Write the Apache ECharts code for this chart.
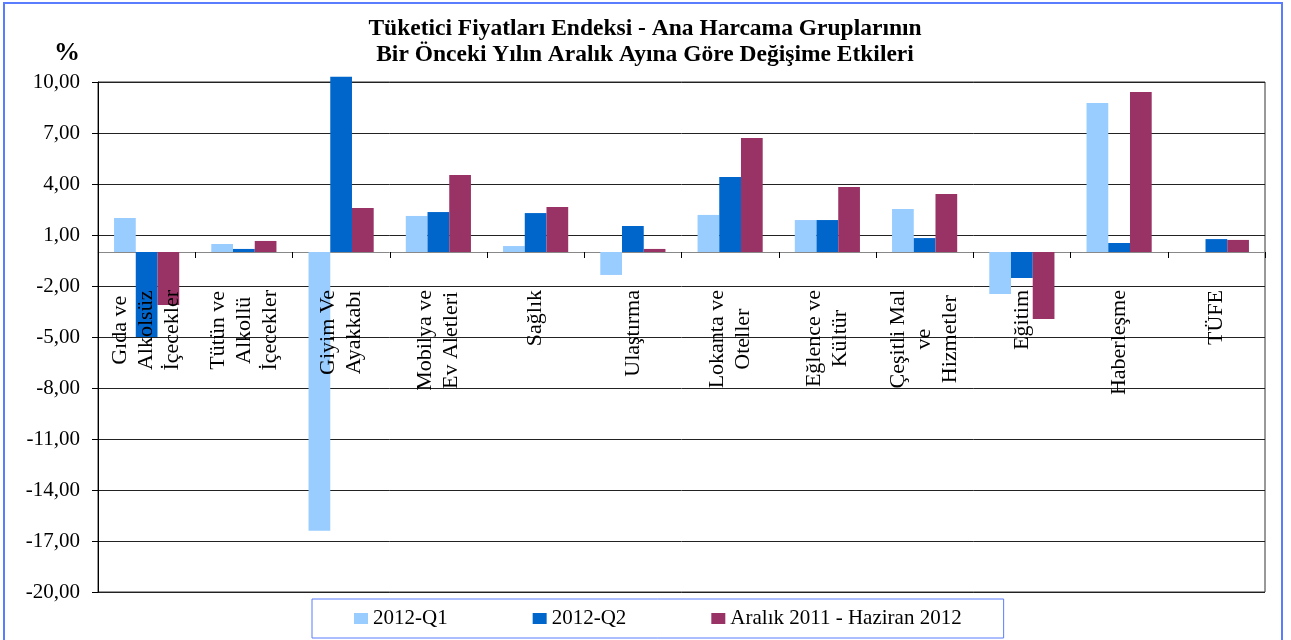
<!DOCTYPE html>
<html>
<head>
<meta charset="utf-8">
<script src="https://cdn.jsdelivr.net/npm/echarts@6/dist/echarts.min.js"></script>
<style>html,body{margin:0;padding:0;background:#fff;}#c{width:1291px;height:640px;}</style>
</head>
<body>
<div id="c"></div>
<script>
const categories = ['Gıda ve\nAlkolsüz\nİçecekler','Tütün ve\nAlkollü\nİçecekler','Giyim Ve\nAyakkabı','Mobilya ve\nEv Aletleri','Sağlık','Ulaştırma','Lokanta ve\nOteller','Eğlence ve\nKültür','Çeşitli Mal\nve\nHizmetler','Eğitim','Haberleşme','TÜFE'];
const seriesNames = ['2012-Q1','2012-Q2','Aralık 2011 - Haziran 2012'];
const q1 = [2.00, 0.47, -16.40, 2.12, 0.35, -1.35, 2.18, 1.88, 2.53, -2.47, 8.76, 0.00];
const q2 = [-5.00, 0.18, 10.31, 2.35, 2.29, 1.53, 4.41, 1.88, 0.82, -1.53, 0.53, 0.76];
const aralik = [-3.12, 0.65, 2.59, 4.53, 2.65, 0.18, 6.71, 3.82, 3.41, -3.94, 9.41, 0.71];
const yTicks = [-20, -17, -14, -11, -8, -5, -2, 1, 4, 7, 10];

const serif = 'Liberation Serif';
const chart = echarts.init(document.getElementById('c'));
const colors = ['#99CCFF', '#0066CC', '#993366'];
const gridTop = 82, gridBottom = 48, yMin = -20, yMax = 10;
// offset that moves the label axis from the grid bottom up to the value 0 line
const plotH = 640 - gridTop - gridBottom;
const zeroOffset = -plotH * (0 - yMin) / (yMax - yMin);
chart.setOption({
  animation: false,
  backgroundColor: '#fff',
  title: {
    text: 'Tüketici Fiyatları Endeksi - Ana Harcama Gruplarının\nBir Önceki Yılın Aralık Ayına Göre Değişime Etkileri',
    left: 640, top: 11, textAlign: 'center',
    textStyle: {fontFamily: serif, fontWeight: 'bold', fontSize: 23.5, lineHeight: 26, color: '#000'}
  },
  graphic: [
    {type: 'rect', shape: {x: 4, y: 3, width: 1278, height: 700}, style: {fill: 'none', stroke: '#5a7dff', lineWidth: 2}, silent: true},
    {type: 'text', left: 54, top: 40, style: {text: '%', font: 'bold 26px "Liberation Serif"', fill: '#000'}}
  ],
  legend: {
    data: seriesNames,
    left: 312, top: 599,
    padding: [9, 42, 9, 42],
    itemGap: 85, itemWidth: 14, itemHeight: 11,
    borderColor: '#5a7dff', borderWidth: 1,
    icon: 'rect',
    textStyle: {fontFamily: serif, fontSize: 21, color: '#000'}
  },
  grid: {left: 98, right: 26, top: gridTop, bottom: gridBottom, show: true, borderColor: '#333', borderWidth: 1, containLabel: false, outerBoundsMode: 'none'},
  xAxis: [{
    type: 'category', data: categories,
    axisLine: {onZero: true, lineStyle: {color: '#888', width: 1}},
    axisTick: {show: true, interval: 0, length: 6, lineStyle: {color: '#000'}},
    axisLabel: {show: false}
  }, {
    type: 'category', data: categories, position: 'bottom', offset: zeroOffset, z: 10,
    axisLine: {show: false, onZero: false},
    axisTick: {show: false},
    splitLine: {show: false},
    axisLabel: {
      interval: 0, rotate: 90, margin: 38, color: '#000',
      fontFamily: serif, fontSize: 22, lineHeight: 26,
      formatter: v => v.split('\n').map(s => '{c|' + s + '}').join('\n'),
      rich: {c: {align: 'center', fontFamily: serif, fontSize: 22, lineHeight: 26, color: '#000'}}
    }
  }],
  yAxis: {
    type: 'value', min: yMin, max: yMax,
    axisLine: {show: true, lineStyle: {color: '#000'}},
    axisTick: {show: true, length: 6, customValues: yTicks, lineStyle: {color: '#000'}},
    axisLabel: {customValues: yTicks, margin: 18, color: '#000', fontFamily: serif, fontSize: 21,
      formatter: v => v.toFixed(2).replace('.', ',')},
    splitLine: {show: true, lineStyle: {color: '#222', width: 1}}
  },
  series: [
    {name: seriesNames[0], type: 'bar', data: q1, itemStyle: {color: colors[0]}, barGap: '0%', barCategoryGap: '33%', clip: false},
    {name: seriesNames[1], type: 'bar', data: q2, itemStyle: {color: colors[1]}, barGap: '0%', barCategoryGap: '33%', clip: false},
    {name: seriesNames[2], type: 'bar', data: aralik, itemStyle: {color: colors[2]}, barGap: '0%', barCategoryGap: '33%', clip: false}
  ]
});
</script>
</body>
</html>
